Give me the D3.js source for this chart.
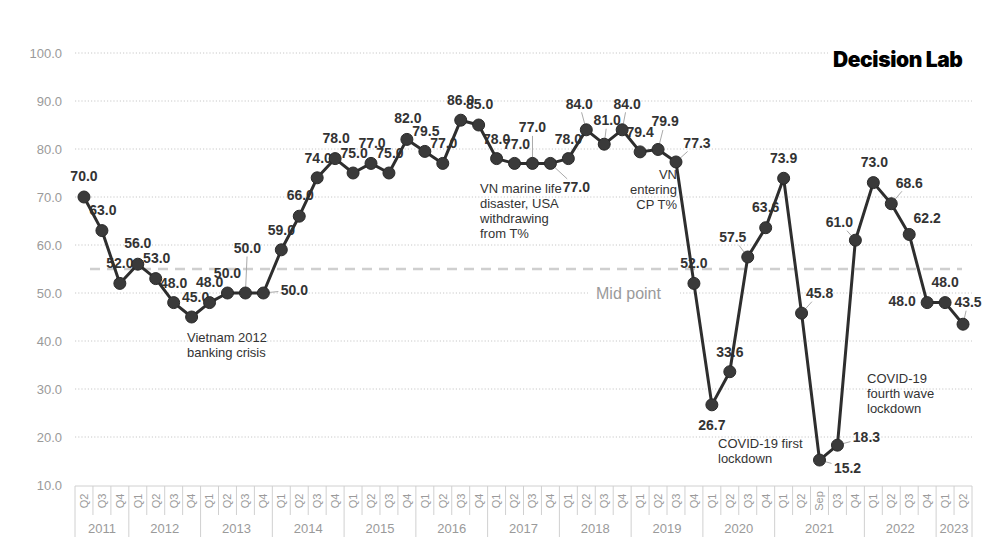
<!DOCTYPE html>
<html>
<head>
<meta charset="utf-8">
<script src="https://cdn.jsdelivr.net/npm/d3@7"></script>
<style>
  html, body { margin: 0; padding: 0; background: #fff; }
  svg { display: block; font-family: "Liberation Sans", Arial, Helvetica, sans-serif; }
</style>
</head>
<body>
<svg id="chart" width="1000" height="559"></svg>
<script>
// ---- data ----
const periodLabels = [
  "Q2","Q3","Q4",
  "Q1","Q2","Q3","Q4",
  "Q1","Q2","Q3","Q4",
  "Q1","Q2","Q3","Q4",
  "Q1","Q2","Q3","Q4",
  "Q1","Q2","Q3","Q4",
  "Q1","Q2","Q3","Q4",
  "Q1","Q2","Q3","Q4",
  "Q1","Q2","Q3","Q4",
  "Q1","Q2","Q3","Q4",
  "Q1","Q2","Sep","Q3","Q4",
  "Q1","Q2","Q3","Q4",
  "Q1","Q2"
];
const periodYears = [
  2011,2011,2011,
  2012,2012,2012,2012,
  2013,2013,2013,2013,
  2014,2014,2014,2014,
  2015,2015,2015,2015,
  2016,2016,2016,2016,
  2017,2017,2017,2017,
  2018,2018,2018,2018,
  2019,2019,2019,2019,
  2020,2020,2020,2020,
  2021,2021,2021,2021,2021,
  2022,2022,2022,2022,
  2023,2023
];
const values = [
  70.0, 63.0, 52.0,
  56.0, 53.0, 48.0, 45.0,
  48.0, 50.0, 50.0, 50.0,
  59.0, 66.0, 74.0, 78.0,
  75.0, 77.0, 75.0, 82.0,
  79.5, 77.0, 86.0, 85.0,
  78.0, 77.0, 77.0, 77.0,
  78.0, 84.0, 81.0, 84.0,
  79.4, 79.9, 77.3, 52.0,
  26.7, 33.6, 57.5, 63.6,
  73.9, 45.8, 15.2, 18.3, 61.0,
  73.0, 68.6, 62.2, 48.0,
  48.0, 43.5
];
const yTicks = [10, 20, 30, 40, 50, 60, 70, 80, 90, 100];
const midPoint = 55;
const midPointLabel = "Mid point";
const brandLabel = "Decision Lab";

// label placement (offset of label centre from its point) and leader-line flags
const labelOffsets = [
  [0,-21],[1,-21],[0,-20],
  [0,-21],[1,-21],[0,-20],[4,-20],
  [0,-21],[0,-20],[2,-45],[31,-3],
  [0,-20],[1,-21],[1,-20],[1,-21],
  [1,-20],[1,-20],[1,-20],[1,-21],
  [1,-20],[1,-20],[0,-20],[1,-21],
  [0,-20],[2,-19],[0,-36],[26,24],
  [0,-20],[-7,-26],[3,-24],[5,-26],
  [0,-20],[7,-28],[21,-19],[0,-20],
  [0,20],[0,-20],[-15,-20],[0,-21],
  [0,-20],[18,-20],[28,8],[29,-8],[-16,-18],
  [1,-21],[18,-21],[18,-16],[-25,-2],
  [0,-21],[5,-22]
];
const leaderIdx = [9,10,25,26,28,29,30,32,33,37,40,41,42,43,45,49];

const annotations = [
  {lines: ["Vietnam 2012", "banking crisis"], x: 187, y: 337, anchor: "start"},
  {lines: ["VN marine life", "disaster, USA", "withdrawing", "from T%"], x: 480, y: 188, anchor: "start"},
  {lines: ["VN", "entering", "CP T%"], x: 677, y: 174, anchor: "end"},
  {lines: ["COVID-19 first", "lockdown"], x: 718, y: 443, anchor: "start"},
  {lines: ["COVID-19", "fourth wave", "lockdown"], x: 867, y: 378, anchor: "start"}
];

// ---- scales ----
const svg = d3.select("#chart");
const idx = d3.range(values.length);
const x = d3.scaleBand().domain(idx).range([75, 972]).padding(0);
const y = d3.scaleLinear().domain([10, 100]).range([485, 53]);
const cx = i => x(i) + x.bandwidth() / 2;

// ---- gridlines ----
const grid = svg.append("g");
grid.selectAll("line").data(yTicks.filter(t => t > 10)).join("line")
  .attr("x1", 75).attr("x2", 972)
  .attr("y1", d => y(d)).attr("y2", d => y(d))
  .attr("stroke", "#c8c8c8").attr("stroke-width", 1)
  .attr("stroke-dasharray", "1.2,2");

// y tick labels via axis
const yAxis = svg.append("g").attr("transform", "translate(75,0)")
  .call(d3.axisLeft(y).tickValues(yTicks).tickFormat(d3.format(".1f")).tickSize(0).tickPadding(13));
yAxis.select(".domain").remove();
yAxis.selectAll("text").attr("fill", "#9a9a9a").attr("font-size", 13)
  .attr("font-family", "'Liberation Sans', Arial, sans-serif");

// brand (white backing hides gridline)
svg.append("rect").attr("x", 828).attr("y", 44).attr("width", 150).attr("height", 30).attr("fill", "#fff");
svg.append("text").attr("x", 833).attr("y", 67)
  .attr("font-size", 21).attr("font-weight", 900).attr("fill", "#000")
  .attr("letter-spacing", "-0.4")
  .attr("font-family", "Inter, 'Liberation Sans', Arial, sans-serif")
  .text(brandLabel);

// mid point dashed line & label
svg.append("line")
  .attr("x1", 90).attr("x2", 962).attr("y1", y(midPoint)).attr("y2", y(midPoint))
  .attr("stroke", "#cfcfcf").attr("stroke-width", 2.5).attr("stroke-dasharray", "10,7");
svg.append("rect").attr("x", 588).attr("y", 282).attr("width", 92).attr("height", 22).attr("fill", "#fff");
svg.append("text").attr("x", 596).attr("y", y(50)).attr("dy", "0.35em")
  .attr("font-size", 16).attr("fill", "#9a9a9a").text(midPointLabel);

// ---- x axis (two-level) ----
const xa = svg.append("g");
const axisTop = 486;
xa.append("line").attr("x1", 75).attr("x2", 972).attr("y1", axisTop).attr("y2", axisTop)
  .attr("stroke", "#d0d0d0");
idx.forEach(i => {
  const yearStart = i === 0 || periodYears[i] !== periodYears[i - 1];
  xa.append("line").attr("x1", x(i)).attr("x2", x(i))
    .attr("y1", axisTop).attr("y2", yearStart ? 537 : 515)
    .attr("stroke", "#d0d0d0");
  xa.append("text")
    .attr("transform", `translate(${cx(i)},501) rotate(-90)`)
    .attr("text-anchor", "middle").attr("dy", "0.35em")
    .attr("font-size", 11).attr("fill", "#9a9a9a")
    .text(periodLabels[i]);
});
xa.append("line").attr("x1", 972).attr("x2", 972).attr("y1", axisTop).attr("y2", 537)
  .attr("stroke", "#d0d0d0");
const years = Array.from(new Set(periodYears));
years.forEach(yr => {
  const members = idx.filter(i => periodYears[i] === yr);
  const x0 = x(members[0]);
  const x1 = x(members[members.length - 1]) + x.bandwidth();
  xa.append("text").attr("x", (x0 + x1) / 2).attr("y", 528).attr("dy", "0.35em")
    .attr("text-anchor", "middle").attr("font-size", 13).attr("fill", "#9a9a9a").text(yr);
});

// ---- annotations ----
annotations.forEach(a => {
  const t = svg.append("text").attr("x", a.x).attr("y", a.y)
    .attr("text-anchor", a.anchor).attr("font-size", 13).attr("fill", "#333");
  a.lines.forEach((ln, k) => {
    t.append("tspan").attr("x", a.x).attr("y", a.y + k * 15).attr("dy", "0.35em").text(ln);
  });
});

// ---- leader lines ----
const leaders = svg.append("g");
leaderIdx.forEach(i => {
  const px = cx(i), py = y(values[i]);
  const lx = px + labelOffsets[i][0], ly = py + labelOffsets[i][1];
  const ux = px - lx, uy = py - ly;
  const t = Math.min(ux === 0 ? Infinity : 16 / Math.abs(ux), uy === 0 ? Infinity : 8.5 / Math.abs(uy));
  leaders.append("line")
    .attr("x1", px).attr("y1", py)
    .attr("x2", lx + ux * t).attr("y2", ly + uy * t)
    .attr("stroke", "#aaa").attr("stroke-width", 1);
});

// ---- value labels (drawn beneath the line) ----
svg.append("g").selectAll("text").data(idx).join("text")
  .attr("x", i => cx(i) + labelOffsets[i][0])
  .attr("y", i => y(values[i]) + labelOffsets[i][1])
  .attr("dy", "0.35em").attr("text-anchor", "middle")
  .attr("font-size", 14).attr("font-weight", "bold").attr("fill", "#333")
  .text(i => d3.format(".1f")(values[i]));

// ---- line & markers ----
const line = d3.line().x(i => cx(i)).y(i => y(values[i]));
svg.append("path").datum(idx).attr("d", line)
  .attr("fill", "none").attr("stroke", "#2e2e2e").attr("stroke-width", 3)
  .attr("stroke-linejoin", "round");
svg.append("g").selectAll("circle").data(idx).join("circle")
  .attr("cx", i => cx(i)).attr("cy", i => y(values[i])).attr("r", 6)
  .attr("fill", "#3a3a3a").attr("stroke", "#2a2a2a").attr("stroke-width", 1);
</script>
</body>
</html>
